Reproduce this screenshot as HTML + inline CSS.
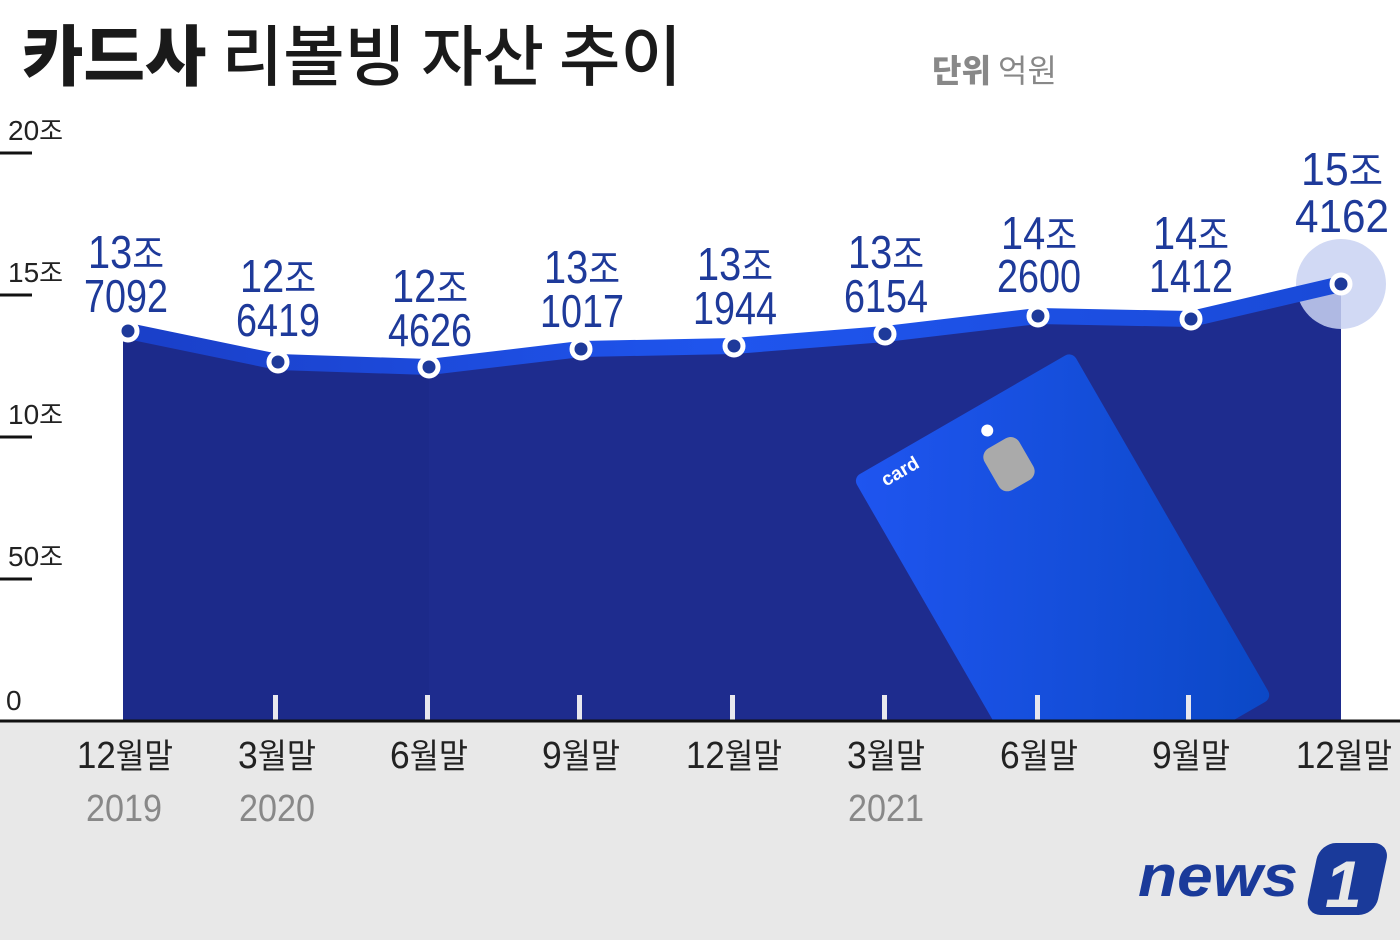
<!DOCTYPE html>
<html><head><meta charset="utf-8"><style>
body{margin:0;width:1400px;height:940px;background:#fff;overflow:hidden;font-family:"Liberation Sans","Noto Sans CJK KR",sans-serif}
</style></head><body>
<svg width="1400" height="940" viewBox="0 0 1400 940" xmlns="http://www.w3.org/2000/svg">
<defs>
<linearGradient id="cg" x1="0" y1="0" x2="1" y2="1"><stop offset="0" stop-color="#1f55f0"/><stop offset="1" stop-color="#0b48c6"/></linearGradient>
<linearGradient id="ln" x1="0" y1="0" x2="1" y2="0"><stop offset="0" stop-color="#1a3fc8"/><stop offset="0.5" stop-color="#1f55ee"/><stop offset="1" stop-color="#1a4ad8"/></linearGradient>
<clipPath id="cl"><rect x="0" y="0" width="1400" height="720"/></clipPath>
</defs>
<rect x="0" y="721" width="1400" height="219" fill="#e8e8e8"/>
<text x="22" y="80" font-family="'Noto Sans CJK KR',sans-serif" font-weight="900" font-size="66" fill="#1a1a1a" textLength="660" lengthAdjust="spacingAndGlyphs">카드사 <tspan font-weight="500">리볼빙 자산 추이</tspan></text>
<text x="932" y="82" font-family="'Noto Sans CJK KR',sans-serif" font-size="32" fill="#888"><tspan font-weight="900">단위</tspan> 억원</text>
<g font-size="28" fill="#222">
<text x="8" y="140">20<tspan font-family="'Noto Sans CJK KR',sans-serif" font-size="26">조</tspan></text>
<text x="8" y="282">15<tspan font-family="'Noto Sans CJK KR',sans-serif" font-size="26">조</tspan></text>
<text x="8" y="424">10<tspan font-family="'Noto Sans CJK KR',sans-serif" font-size="26">조</tspan></text>
<text x="8" y="566">50<tspan font-family="'Noto Sans CJK KR',sans-serif" font-size="26">조</tspan></text>
<text x="6" y="710">0</text>
</g>
<g stroke="#111" stroke-width="3"><line x1="0" y1="153" x2="32" y2="153"/><line x1="0" y1="295" x2="32" y2="295"/><line x1="0" y1="437" x2="32" y2="437"/><line x1="0" y1="579" x2="32" y2="579"/></g>
<polygon points="123,331 278,362 429,367 581,349 734,346 885,334 1038,316 1191,319 1341,284 1341,720 123,720" fill="#1c2a8a"/>
<polygon points="429,367 581,349 734,346 885,334 1038,316 1191,319 1341,284 1341,720 429,720" fill="#1e2c8e"/>
<circle cx="1341" cy="284" r="45" fill="#c9d2f2" opacity="0.85"/>
<polyline points="128,331 278,362 429,367 581,349 734,346 885,334 1038,316 1191,319 1341,284" fill="none" stroke="url(#ln)" stroke-width="16" stroke-linejoin="round"/>
<g clip-path="url(#cl)">
<g transform="translate(853,478) rotate(-30)">
<rect x="0" y="0" width="253" height="400" rx="8" fill="url(#cg)"/>
<text x="24" y="24" font-family="'Liberation Sans',sans-serif" font-size="19" font-weight="bold" fill="#fff">card</text>
<rect x="122" y="42" width="40" height="48" rx="10" fill="#aaa"/>
<circle cx="140" cy="26" r="6" fill="#fff"/>
</g>
</g>
<g fill="#e8e8ee"><rect x="273" y="695" width="5" height="25"/><rect x="425" y="695" width="5" height="25"/><rect x="577" y="695" width="5" height="25"/><rect x="730" y="695" width="5" height="25"/><rect x="882" y="695" width="5" height="25"/><rect x="1035" y="695" width="5" height="25"/><rect x="1186" y="695" width="5" height="25"/></g>
<line x1="0" y1="721" x2="1400" y2="721" stroke="#111" stroke-width="3"/>
<g fill="#1e3a9a" stroke="#fff" stroke-width="5">
<circle cx="128" cy="331" r="9"/><circle cx="278" cy="362" r="9"/><circle cx="429" cy="367" r="9"/><circle cx="581" cy="349" r="9"/><circle cx="734" cy="346" r="9"/><circle cx="885" cy="334" r="9"/><circle cx="1038" cy="316" r="9"/><circle cx="1191" cy="319" r="9"/><circle cx="1341" cy="284" r="9"/>
</g>
<g font-size="46" fill="#1e3a9a" text-anchor="middle">
<text x="126" y="268" textLength="76" lengthAdjust="spacingAndGlyphs">13<tspan font-family="'Noto Sans CJK KR',sans-serif" font-size="40">조</tspan></text><text x="126" y="312" textLength="84" lengthAdjust="spacingAndGlyphs">7092</text>
<text x="278" y="292" textLength="76" lengthAdjust="spacingAndGlyphs">12<tspan font-family="'Noto Sans CJK KR',sans-serif" font-size="40">조</tspan></text><text x="278" y="336" textLength="84" lengthAdjust="spacingAndGlyphs">6419</text>
<text x="430" y="302" textLength="76" lengthAdjust="spacingAndGlyphs">12<tspan font-family="'Noto Sans CJK KR',sans-serif" font-size="40">조</tspan></text><text x="430" y="346" textLength="84" lengthAdjust="spacingAndGlyphs">4626</text>
<text x="582" y="283" textLength="76" lengthAdjust="spacingAndGlyphs">13<tspan font-family="'Noto Sans CJK KR',sans-serif" font-size="40">조</tspan></text><text x="582" y="327" textLength="84" lengthAdjust="spacingAndGlyphs">1017</text>
<text x="735" y="280" textLength="76" lengthAdjust="spacingAndGlyphs">13<tspan font-family="'Noto Sans CJK KR',sans-serif" font-size="40">조</tspan></text><text x="735" y="324" textLength="84" lengthAdjust="spacingAndGlyphs">1944</text>
<text x="886" y="268" textLength="76" lengthAdjust="spacingAndGlyphs">13<tspan font-family="'Noto Sans CJK KR',sans-serif" font-size="40">조</tspan></text><text x="886" y="312" textLength="84" lengthAdjust="spacingAndGlyphs">6154</text>
<text x="1039" y="249" textLength="76" lengthAdjust="spacingAndGlyphs">14<tspan font-family="'Noto Sans CJK KR',sans-serif" font-size="40">조</tspan></text><text x="1039" y="292" textLength="84" lengthAdjust="spacingAndGlyphs">2600</text>
<text x="1191" y="249" textLength="76" lengthAdjust="spacingAndGlyphs">14<tspan font-family="'Noto Sans CJK KR',sans-serif" font-size="40">조</tspan></text><text x="1191" y="292" textLength="84" lengthAdjust="spacingAndGlyphs">1412</text>
<text x="1342" y="185" textLength="82" lengthAdjust="spacingAndGlyphs">15<tspan font-family="'Noto Sans CJK KR',sans-serif" font-size="40">조</tspan></text><text x="1342" y="232" textLength="94" lengthAdjust="spacingAndGlyphs">4162</text>
</g>
<g font-size="38" fill="#222" text-anchor="middle">
<text x="125" y="768" textLength="96" lengthAdjust="spacingAndGlyphs">12<tspan font-family="'Noto Sans CJK KR',sans-serif" font-size="34">월말</tspan></text>
<text x="277" y="768" textLength="78" lengthAdjust="spacingAndGlyphs">3<tspan font-family="'Noto Sans CJK KR',sans-serif" font-size="34">월말</tspan></text>
<text x="429" y="768" textLength="78" lengthAdjust="spacingAndGlyphs">6<tspan font-family="'Noto Sans CJK KR',sans-serif" font-size="34">월말</tspan></text>
<text x="581" y="768" textLength="78" lengthAdjust="spacingAndGlyphs">9<tspan font-family="'Noto Sans CJK KR',sans-serif" font-size="34">월말</tspan></text>
<text x="734" y="768" textLength="96" lengthAdjust="spacingAndGlyphs">12<tspan font-family="'Noto Sans CJK KR',sans-serif" font-size="34">월말</tspan></text>
<text x="886" y="768" textLength="78" lengthAdjust="spacingAndGlyphs">3<tspan font-family="'Noto Sans CJK KR',sans-serif" font-size="34">월말</tspan></text>
<text x="1039" y="768" textLength="78" lengthAdjust="spacingAndGlyphs">6<tspan font-family="'Noto Sans CJK KR',sans-serif" font-size="34">월말</tspan></text>
<text x="1191" y="768" textLength="78" lengthAdjust="spacingAndGlyphs">9<tspan font-family="'Noto Sans CJK KR',sans-serif" font-size="34">월말</tspan></text>
<text x="1344" y="768" textLength="96" lengthAdjust="spacingAndGlyphs">12<tspan font-family="'Noto Sans CJK KR',sans-serif" font-size="34">월말</tspan></text>
</g>
<g font-size="38" fill="#888" text-anchor="middle">
<text x="124" y="821" textLength="76" lengthAdjust="spacingAndGlyphs">2019</text><text x="277" y="821" textLength="76" lengthAdjust="spacingAndGlyphs">2020</text><text x="886" y="821" textLength="76" lengthAdjust="spacingAndGlyphs">2021</text>
</g>
<text x="1138" y="896" font-family="'Liberation Sans',sans-serif" font-weight="bold" font-style="italic" font-size="58" fill="#1a3a9a" textLength="160" lengthAdjust="spacingAndGlyphs">news</text>
<g transform="translate(1306,843) skewX(-12)"><rect x="14" y="0" width="70" height="72" rx="16" fill="#1a3a9a"/></g>
<text x="1325" y="907" font-family="'Liberation Sans',sans-serif" font-weight="bold" font-style="italic" font-size="66" fill="#e8e8e8">1</text>
</svg>
</body></html>
